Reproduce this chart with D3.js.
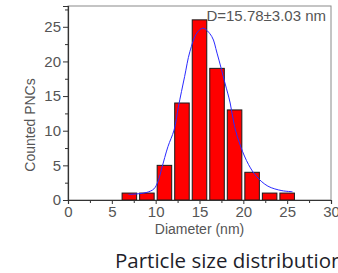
<!DOCTYPE html>
<html>
<head>
<meta charset="utf-8">
<script src="https://cdn.jsdelivr.net/npm/d3@7"></script>
<style>
  body { margin: 0; background: #fff; }
  svg { display: block; }
</style>
</head>
<body>
<script>
// histogram bins (nm) and counts
const binStarts = [6, 8, 10, 12, 14, 16, 18, 20, 22, 24]
const binWidth = 2
const counts = [1, 1, 5, 14, 26, 19, 13, 4, 1, 1]

// gaussian fit line
const fitX = [6.9, 8, 9, 9.8, 10.3, 10.7, 11.4, 12.1, 12.6, 13.3, 13.9, 14.7, 15.4, 16.4, 17.0, 17.9, 18.5, 19.0, 19.7, 20.6, 21.5, 22.8, 24.4, 25.6]
const fitY = [0.8, 0.9, 1.1, 1.6, 2.8, 4.6, 7.7, 10.1, 13.5, 17.8, 21.4, 24.1, 24.8, 23.6, 21.2, 16.9, 14.0, 10.6, 7.7, 5.1, 3.4, 2.0, 1.35, 1.2]

const xTicks = [0, 5, 10, 15, 20, 25, 30]
const yTicks = [0, 5, 10, 15, 20, 25]

const WIDTH = 338
const HEIGHT = 273
const M = { left: 68, top: 6, right: 7, bottom: 73 }

const svg = d3.select('body').append('svg')
  .attr('width', WIDTH)
  .attr('height', HEIGHT)

const x = d3.scaleLinear().domain([0, 30]).range([M.left, WIDTH - M.right])
const y = d3.scaleLinear().domain([0, 28]).range([HEIGHT - M.bottom, M.top])

// frame
svg.append('rect')
  .attr('x', x(0)).attr('y', y(28))
  .attr('width', x(30) - x(0)).attr('height', y(0) - y(28))
  .attr('fill', 'none').attr('stroke', '#8a8a8a').attr('stroke-width', 1)

// bars
svg.selectAll('rect.bar')
  .data(counts)
  .enter()
  .append('rect')
  .attr('class', 'bar')
  .attr('x', (d, i) => x(binStarts[i]) + 1.5)
  .attr('width', (d, i) => x(binStarts[i] + binWidth) - x(binStarts[i]) - 3)
  .attr('y', d => y(d))
  .attr('height', d => y(0) - y(d))
  .attr('fill', '#ff0000')
  .attr('stroke', '#1a1a1a')
  .attr('stroke-width', 1)

// fit line
const line = d3.line()
  .x((d, i) => x(fitX[i]))
  .y(d => y(d))
  .curve(d3.curveCatmullRom)

svg.append('path')
  .datum(fitY)
  .attr('d', line)
  .attr('fill', 'none')
  .attr('stroke', '#2a2aff')
  .attr('stroke-width', 1)

// axes
const axisFont = 'Liberation Sans, Arial, sans-serif'

const xAxis = svg.append('g')
  .attr('transform', `translate(0,${y(0)})`)
  .call(d3.axisBottom(x).tickValues(xTicks).tickSize(4).tickPadding(2))
xAxis.append('g')
  .call(d3.axisBottom(x).tickValues(d3.range(2.5, 30, 5)).tickSize(3).tickFormat(''))
  .select('.domain').remove()

const yAxis = svg.append('g')
  .attr('transform', `translate(${x(0)},0)`)
  .call(d3.axisLeft(y).tickValues(yTicks).tickSize(5).tickPadding(2))
yAxis.append('g')
  .call(d3.axisLeft(y).tickValues(d3.range(2.5, 28, 5)).tickSize(3).tickFormat(''))
  .select('.domain').remove()

svg.selectAll('.domain').attr('stroke', '#333').attr('stroke-width', 1.2)
svg.selectAll('.tick line').attr('stroke', '#333')
svg.selectAll('.tick text')
  .attr('font-family', axisFont)
  .attr('font-size', 15)
  .attr('fill', '#555')

// axis titles
svg.append('text')
  .attr('x', (x(0) + x(30)) / 2)
  .attr('y', 234)
  .attr('text-anchor', 'middle')
  .attr('font-family', axisFont)
  .attr('font-size', 14)
  .attr('fill', '#555')
  .text('Diameter (nm)')

svg.append('text')
  .attr('transform', 'translate(35,125) rotate(-90)')
  .attr('text-anchor', 'middle')
  .attr('font-family', axisFont)
  .attr('font-size', 14)
  .attr('fill', '#555')
  .text('Counted PNCs')

// annotation
svg.append('text')
  .attr('x', 326)
  .attr('y', 21)
  .attr('text-anchor', 'end')
  .attr('font-family', axisFont)
  .attr('font-size', 15)
  .attr('fill', '#555')
  .text('D=15.78±3.03 nm')

// caption (cut off at the right edge, as in the source picture)
svg.append('text')
  .attr('x', 115)
  .attr('y', 268)
  .attr('font-family', 'Open Sans, sans-serif')
  .attr('font-size', 20.5)
  .attr('fill', '#1e1e2a')
  .text('Particle size distribution')
</script>
</body>
</html>
